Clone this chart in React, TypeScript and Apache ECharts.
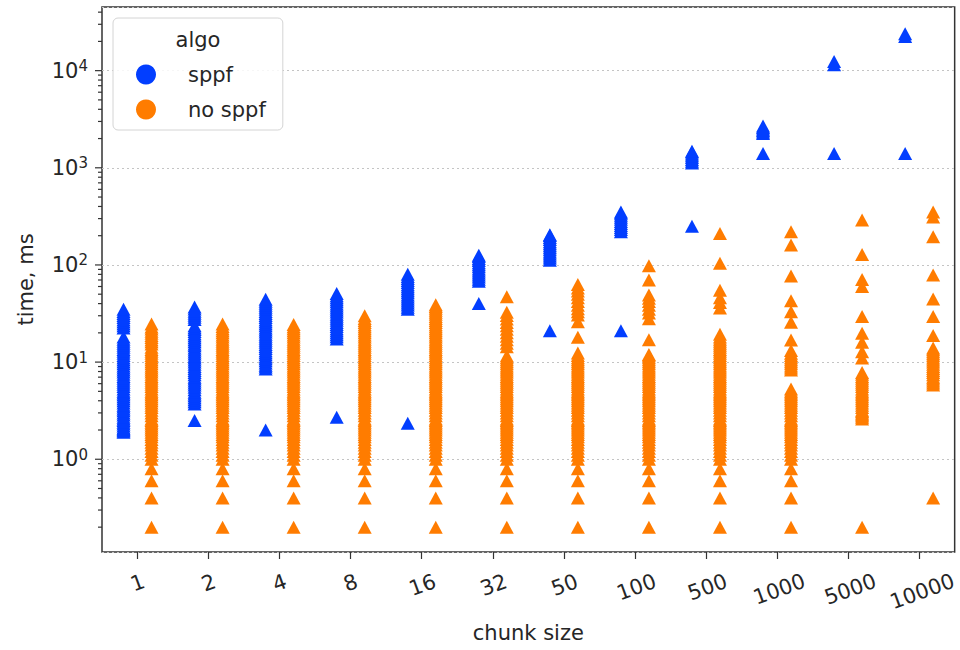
import React, { useEffect, useRef } from "react";
import * as echarts from "echarts";

const categories = ["1", "2", "4", "8", "16", "32", "50", "100", "500", "1000", "5000", "10000"];
const seriesNames = ["sppf", "no sppf"];
const legendTitle = "algo";
const xAxisTitle = "chunk size";
const yAxisTitle = "time, ms";

// time, ms — sppf (one list per chunk size)
const sppf1 = [1.9, 1.95, 2.0, 2.05, 2.1, 2.2, 2.3, 2.4, 2.5, 2.6, 2.7, 2.85, 3.0, 3.15, 3.3, 3.45, 3.6, 3.8, 4.0, 4.2, 4.4, 4.6, 4.8, 5.0, 5.3, 5.6, 5.9, 6.2, 6.5, 6.8, 7.1, 7.5, 7.9, 8.3, 8.7, 9.1, 9.6, 10.1, 10.6, 11.1, 11.7, 12.3, 12.9, 13.5, 14.2, 14.9, 15.6, 16.4, 17.2, 18.1, 22.5, 23.6, 24.8, 26, 27.3, 28.7, 30.1, 31.6, 33.2, 35];
const sppf2 = [2.5, 3.7, 3.9, 4.1, 4.3, 4.5, 4.7, 4.9, 5.2, 5.5, 5.8, 6.1, 6.4, 6.7, 7.0, 7.4, 7.8, 8.2, 8.6, 9.0, 9.5, 10.0, 10.5, 11.0, 11.5, 12.1, 12.7, 13.3, 14.0, 14.7, 15.4, 16.2, 17.0, 17.8, 18.7, 19.6, 20.6, 21.6, 22.6, 23.6, 27.5, 28.9, 30.3, 31.8, 33.4, 35.1, 37];
const sppf4 = [2.0, 8.5, 8.9, 9.3, 9.8, 10.3, 10.8, 11.3, 11.9, 12.5, 13.1, 13.8, 14.5, 15.2, 16.0, 16.8, 17.6, 18.5, 19.4, 20.4, 21.4, 22.5, 23.6, 24.8, 26.0, 27.3, 28.7, 30.1, 31.6, 33.2, 34.9, 36.6, 38.4, 40.3, 42.3, 44.4];
const sppf8 = [2.7, 17.3, 18.2, 19.1, 20.0, 21.0, 22.1, 23.2, 24.4, 25.6, 26.9, 28.2, 29.6, 31.1, 32.7, 34.3, 36.0, 37.8, 39.7, 41.7, 43.8, 46.0, 48.3, 50.7];
const sppf16 = [2.35, 35, 36.8, 38.6, 40.5, 42.5, 44.6, 46.8, 49.1, 51.6, 54.2, 56.9, 59.7, 62.7, 65.8, 69.1, 72.6, 76.2, 80];
const sppf32 = [40, 68, 71.4, 75, 78.7, 82.6, 86.8, 91.1, 95.7, 100.5, 105.5, 110.8, 116.3, 122.1, 126];
const sppf50 = [21, 112, 117.6, 123.5, 129.7, 136.2, 143, 150, 157.5, 165.4, 173.7, 182.4, 191.5, 201, 205];
const sppf100 = [21, 220, 231, 242.5, 254.6, 267.4, 280.8, 294.8, 309.5, 325, 341, 350];
const sppf500 = [250, 1120, 1170, 1220, 1275, 1330, 1390, 1450, 1480];
const sppf1000 = [1400, 2250, 2330, 2420, 2510, 2600, 2700];
const sppf5000 = [1400, 11500, 12400];
const sppf10000 = [1400, 22500, 24000];

// time, ms — no sppf
const noSppf1 = [0.2, 0.4, 0.6, 0.8, 1.0, 1.1, 1.2, 1.3, 1.4, 1.5, 1.6, 1.7, 1.8, 1.9, 2.0, 2.1, 2.2, 2.3, 2.4, 2.5, 2.6, 2.8, 3.0, 3.2, 3.4, 3.6, 3.8, 4.0, 4.2, 4.4, 4.6, 4.8, 5.0, 5.3, 5.6, 5.9, 6.2, 6.5, 6.8, 7.1, 7.5, 7.9, 8.3, 8.7, 9.1, 9.6, 10.1, 10.6, 11.1, 11.7, 12.3, 12.9, 13.5, 14.2, 15.4, 16.2, 17.0, 17.9, 18.8, 19.8, 20.8, 21.9, 23.0, 24.6];
const noSppf2 = [0.2, 0.4, 0.6, 0.8, 1.0, 1.1, 1.2, 1.3, 1.4, 1.5, 1.6, 1.7, 1.8, 1.9, 2.0, 2.1, 2.2, 2.3, 2.4, 2.5, 2.6, 2.8, 3.0, 3.2, 3.4, 3.6, 3.8, 4.0, 4.2, 4.4, 4.6, 4.8, 5.0, 5.3, 5.6, 5.9, 6.2, 6.5, 6.8, 7.1, 7.5, 7.9, 8.3, 8.7, 9.1, 9.6, 10.1, 10.6, 11.1, 11.7, 12.3, 12.9, 13.5, 14.2, 14.9, 15.6, 16.4, 17.2, 18.1, 19.0, 20.0, 21.0, 22.0, 23.2, 24.6];
const noSppf4 = [0.2, 0.4, 0.6, 0.8, 1.0, 1.1, 1.2, 1.3, 1.4, 1.5, 1.6, 1.7, 1.8, 1.9, 2.0, 2.1, 2.2, 2.3, 2.4, 2.5, 2.6, 2.8, 3.0, 3.2, 3.4, 3.6, 3.8, 4.0, 4.2, 4.4, 4.6, 4.8, 5.0, 5.3, 5.6, 5.9, 6.2, 6.5, 6.8, 7.1, 7.5, 7.9, 8.3, 8.7, 9.1, 9.6, 10.1, 10.6, 11.1, 11.7, 12.3, 12.9, 13.5, 14.2, 14.9, 15.6, 16.4, 17.2, 18.1, 19.0, 20.0, 21.0, 22.0, 23.1, 24.4];
const noSppf8 = [0.2, 0.4, 0.6, 0.8, 1.0, 1.1, 1.2, 1.3, 1.4, 1.5, 1.6, 1.7, 1.8, 1.9, 2.0, 2.1, 2.2, 2.3, 2.4, 2.5, 2.6, 2.8, 3.0, 3.2, 3.4, 3.6, 3.8, 4.0, 4.2, 4.4, 4.6, 4.8, 5.0, 5.3, 5.6, 5.9, 6.2, 6.5, 6.8, 7.1, 7.5, 7.9, 8.3, 8.7, 9.1, 9.6, 10.1, 10.6, 11.1, 11.7, 12.3, 12.9, 13.5, 14.2, 14.9, 15.6, 16.4, 17.2, 18.1, 19.0, 20.0, 21.0, 22.0, 23.1, 24.3, 25.5, 26.8, 28.1, 30.0];
const noSppf16 = [0.2, 0.4, 0.6, 0.8, 1.0, 1.1, 1.2, 1.3, 1.4, 1.5, 1.6, 1.7, 1.8, 1.9, 2.0, 2.1, 2.2, 2.3, 2.4, 2.5, 2.6, 2.8, 3.0, 3.2, 3.4, 3.6, 3.8, 4.0, 4.2, 4.4, 4.6, 4.8, 5.0, 5.3, 5.6, 5.9, 6.2, 6.5, 6.8, 7.1, 7.5, 7.9, 8.3, 8.7, 9.1, 9.6, 10.1, 10.6, 11.1, 11.7, 12.3, 12.9, 13.5, 14.2, 14.9, 15.6, 16.4, 17.2, 18.1, 19.0, 20.0, 21.0, 22.0, 23.1, 24.3, 25.5, 26.8, 28.1, 29.5, 31.0, 32.5, 34.1, 35.8, 37.4, 39.0];
const noSppf32 = [0.2, 0.4, 0.6, 0.8, 1.0, 1.1, 1.2, 1.3, 1.4, 1.5, 1.6, 1.7, 1.8, 1.9, 2.0, 2.1, 2.2, 2.3, 2.4, 2.5, 2.6, 2.8, 3.0, 3.2, 3.4, 3.6, 3.8, 4.0, 4.2, 4.4, 4.6, 4.8, 5.0, 5.3, 5.6, 5.9, 6.2, 6.5, 6.8, 7.1, 7.5, 7.9, 8.3, 8.7, 9.1, 9.6, 10.1, 10.6, 11.1, 11.6, 14.4, 15.6, 17.0, 18.5, 20.0, 21.8, 23.6, 25.6, 27.8, 30.2, 32.6, 47.0];
const noSppf50 = [0.2, 0.4, 0.6, 0.8, 1.0, 1.1, 1.2, 1.3, 1.4, 1.5, 1.6, 1.7, 1.8, 1.9, 2.0, 2.1, 2.2, 2.3, 2.4, 2.5, 2.6, 2.8, 3.0, 3.2, 3.4, 3.6, 3.8, 4.0, 4.2, 4.4, 4.6, 4.8, 5.0, 5.3, 5.6, 5.9, 6.2, 6.5, 6.8, 7.1, 7.5, 7.9, 8.3, 8.7, 9.1, 9.6, 10.1, 10.6, 11.1, 11.7, 12.4, 18.0, 26.0, 30.5, 33.0, 35.5, 38.5, 42.0, 46.0, 50.0, 54.0, 58.0, 63.0];
const noSppf100 = [0.2, 0.4, 0.6, 0.8, 1.0, 1.1, 1.2, 1.3, 1.4, 1.5, 1.6, 1.7, 1.8, 1.9, 2.0, 2.1, 2.2, 2.3, 2.4, 2.5, 2.6, 2.8, 3.0, 3.2, 3.4, 3.6, 3.8, 4.0, 4.2, 4.4, 4.6, 4.8, 5.0, 5.3, 5.6, 5.9, 6.2, 6.5, 6.8, 7.1, 7.5, 7.9, 8.3, 8.7, 9.1, 9.6, 10.1, 10.6, 11.1, 11.6, 12.0, 17.0, 28.0, 32.0, 35.0, 38.5, 42.0, 45.5, 49.0, 70.0, 98.0];
const noSppf500 = [0.2, 0.4, 0.6, 0.8, 1.0, 1.1, 1.2, 1.3, 1.4, 1.5, 1.6, 1.7, 1.8, 1.9, 2.0, 2.1, 2.2, 2.3, 2.4, 2.5, 2.6, 2.8, 3.0, 3.2, 3.4, 3.6, 3.8, 4.0, 4.2, 4.4, 4.6, 4.8, 5.0, 5.3, 5.6, 5.9, 6.2, 6.5, 6.8, 7.1, 7.5, 7.9, 8.3, 8.7, 9.1, 9.6, 10.1, 10.6, 11.1, 11.7, 12.3, 12.9, 13.5, 14.2, 14.9, 15.6, 16.4, 17.2, 18.1, 19.4, 36.0, 41.0, 46.0, 55.0, 104.0, 211.0];
const noSppf1000 = [0.2, 0.4, 0.6, 0.8, 1.0, 1.1, 1.2, 1.3, 1.4, 1.5, 1.6, 1.7, 1.8, 1.9, 2.0, 2.1, 2.2, 2.3, 2.4, 2.5, 2.6, 2.8, 3.0, 3.2, 3.4, 3.6, 3.8, 4.0, 4.2, 4.4, 4.6, 4.8, 5.0, 5.3, 8.3, 8.7, 9.1, 9.6, 10.1, 10.6, 11.1, 11.7, 12.3, 13.2, 16.9, 25.7, 33.0, 42.8, 77.0, 160.0, 220.0];
const noSppf5000 = [0.2, 2.6, 2.7, 2.8, 2.9, 3.0, 3.1, 3.2, 3.4, 3.6, 3.8, 4.0, 4.2, 4.4, 4.6, 4.8, 5.0, 5.3, 5.6, 5.9, 6.2, 6.5, 6.8, 7.1, 7.5, 7.8, 11.0, 12.8, 16.0, 19.8, 29.5, 60.0, 71.0, 128.0, 290.0];
const noSppf10000 = [0.4, 5.8, 6.1, 6.4, 6.7, 7.0, 7.4, 7.8, 8.2, 8.6, 9.0, 9.5, 10.0, 10.5, 11.0, 11.6, 12.2, 12.8, 13.4, 14.0, 18.8, 29.5, 44.6, 79.0, 195.0, 312.0, 350.0];

const sppfByChunk = [sppf1, sppf2, sppf4, sppf8, sppf16, sppf32, sppf50, sppf100, sppf500, sppf1000, sppf5000, sppf10000];
const noSppfByChunk = [noSppf1, noSppf2, noSppf4, noSppf8, noSppf16, noSppf32, noSppf50, noSppf100, noSppf500, noSppf1000, noSppf5000, noSppf10000];

// y axis (log) range and tick marks
const yMin = 0.111;
const yMax = 45200;
const majorTicks = [1, 10, 100, 1000, 10000];
const minorTicks = [
  0.2, 0.3, 0.4, 0.5, 0.6, 0.7, 0.8, 0.9,
  2, 3, 4, 5, 6, 7, 8, 9,
  20, 30, 40, 50, 60, 70, 80, 90,
  200, 300, 400, 500, 600, 700, 800, 900,
  2000, 3000, 4000, 5000, 6000, 7000, 8000, 9000,
  20000, 30000, 40000,
];

const BLUE = "#023eff";
const ORANGE = "#ff7c00";
const TEXT = "#262626";
const FONT = "DejaVu Sans";

export default function App() {
  const ref = useRef<HTMLDivElement>(null);

  useEffect(() => {
    const chart = echarts.init(ref.current!, null, { renderer: "svg" });
    const toPoints = (cols: number[][]) => cols.flatMap((vals, i) => vals.map((v) => [i, v]));
    const tickSeries = (vals: number[], len: number) => ({
      type: "custom",
      silent: true,
      clip: false,
      z: 6,
      data: vals.map((v) => [0, v]),
      renderItem: (params: any, api: any) => {
        const y = api.coord([0, api.value(1)])[1];
        const x = params.coordSys.x;
        return {
          type: "line",
          shape: { x1: x - len, y1: y, x2: x, y2: y },
          style: { stroke: "#333", lineWidth: 1.2 },
        };
      },
    });

    const xRich: any = {};
    for (let n = 1; n <= 5; n++) {
      xRich["l" + n] = { fontSize: 21, fontFamily: FONT, color: TEXT, padding: [4.5 * (n - 1), 0, 0, 0] };
    }

    const option: any = {
      animation: false,
      textStyle: { fontFamily: FONT },
      grid: {
        left: 102,
        right: 5,
        top: 7,
        bottom: 98,
        show: true,
        borderColor: "#333",
        borderWidth: 1.5,
        backgroundColor: "#fff",
      },
      xAxis: {
        type: "category",
        data: categories,
        axisLine: { show: false },
        axisTick: { show: true, alignWithLabel: true, length: 7, lineStyle: { color: "#333", width: 1.2 } },
        axisLabel: {
          interval: 0,
          rotate: 20,
          align: "center",
          verticalAlign: "middle",
          margin: 31,
          formatter: (v: string) => `{l${v.length}|${v}}`,
          rich: xRich,
        },
        splitLine: { show: false },
        name: xAxisTitle,
        nameLocation: "middle",
        nameGap: 70,
        nameTextStyle: { fontSize: 21, color: TEXT, fontFamily: FONT, verticalAlign: "top" },
      },
      yAxis: {
        type: "log",
        logBase: 10,
        min: yMin,
        max: yMax,
        axisLine: { show: false },
        axisTick: { show: false },
        axisLabel: {
          margin: 14,
          formatter: (v: number) => {
            const l = Math.log10(v);
            const r = Math.round(l);
            if (Math.abs(l - r) > 1e-6) return "";
            return `{b|10}{s|${r}}`;
          },
          rich: {
            b: { fontSize: 21, fontFamily: FONT, color: TEXT, lineHeight: 24 },
            s: { fontSize: 15, fontFamily: FONT, color: TEXT, lineHeight: 15, verticalAlign: "top" },
          },
        },
        splitLine: { show: true, lineStyle: { color: "#c4c4c4", type: [2, 3], width: 1 } },
        name: yAxisTitle,
        nameLocation: "middle",
        nameGap: 66,
        nameTextStyle: { fontSize: 21, color: TEXT, fontFamily: FONT },
      },
      legend: {
        orient: "vertical",
        left: 113,
        top: 18,
        padding: [46, 17, 10, 23],
        itemGap: 14,
        itemWidth: 20,
        itemHeight: 20,
        backgroundColor: "rgba(255,255,255,0.85)",
        borderColor: "#d4d4d4",
        borderWidth: 1,
        borderRadius: 5,
        textStyle: { fontSize: 21, color: TEXT, fontFamily: FONT, padding: [0, 0, 0, 27] },
        data: [
          { name: seriesNames[0], icon: "circle" },
          { name: seriesNames[1], icon: "circle" },
        ],
      },
      graphic: [
        {
          type: "text",
          x: 198,
          y: 40,
          z: 100,
          style: {
            text: legendTitle,
            fontSize: 21,
            fontFamily: FONT,
            fill: TEXT,
            align: "center",
            verticalAlign: "middle",
          },
        },
      ],
      series: [
        {
          type: "scatter",
          name: seriesNames[0],
          data: toPoints(sppfByChunk),
          symbol: "triangle",
          symbolSize: [14, 13],
          symbolOffset: [-14, 0],
          itemStyle: { color: BLUE, opacity: 1 },
          z: 3,
        },
        {
          type: "scatter",
          name: seriesNames[1],
          data: toPoints(noSppfByChunk),
          symbol: "triangle",
          symbolSize: [14, 13],
          symbolOffset: [14, 0],
          itemStyle: { color: ORANGE, opacity: 1 },
          z: 3,
        },
        tickSeries(majorTicks, 7),
        tickSeries(minorTicks, 4),
      ],
    };
    chart.setOption(option);
    return () => chart.dispose();
  }, []);

  return (
    <div
      ref={ref}
      style={{ position: "absolute", left: 0, top: 0, width: 960, height: 650, background: "#fff" }}
    />
  );
}
